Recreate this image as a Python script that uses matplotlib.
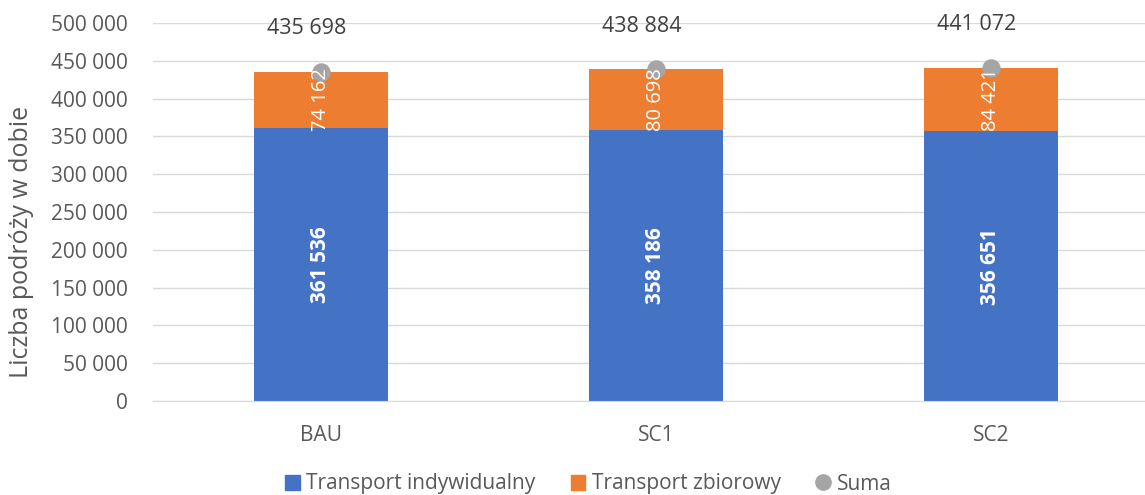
import matplotlib.pyplot as plt
from matplotlib.lines import Line2D
from matplotlib.patches import Patch

# dane
categories = ["BAU", "SC1", "SC2"]
indywidualny = [361536, 358186, 356651]
zbiorowy = [74162, 80698, 84421]
suma = [435698, 438884, 441072]

plt.rcParams['font.family'] = ['Open Sans', 'DejaVu Sans']

blue = "#4472C4"
orange = "#ED7D31"
grey = "#A5A5A5"
txt = "#595959"


def fmt(v):
    return f"{v:,.0f}".replace(",", " ")


fig = plt.figure(figsize=(11.45, 4.95), dpi=100)
ax = fig.add_axes([153 / 1145, 1 - 401 / 495, (1145 - 153) / 1145, 378 / 495])

x = range(len(categories))
ax.bar(x, indywidualny, width=0.4, color=blue, zorder=2)
ax.bar(x, zbiorowy, width=0.4, bottom=indywidualny, color=orange, zorder=2)
ax.scatter(x, suma, s=150, color=grey, zorder=3)

for i in x:
    ax.text(i, indywidualny[i] / 2, fmt(indywidualny[i]), rotation=90, color="white",
            fontsize=15, fontweight="bold", ha="center", va="center", zorder=4)
    ax.text(i, indywidualny[i] + zbiorowy[i] / 2, fmt(zbiorowy[i]), rotation=90, color="white",
            fontsize=14.5, ha="center", va="center", zorder=4)
    ax.text(i - 0.043, suma[i] + 57000, fmt(suma[i]), color="#404040", fontsize=15.5,
            ha="center", va="center", zorder=4)

ax.set_xlim(-0.5015, 2.46)
ax.set_ylim(0, 500000)
ax.set_yticks(range(0, 500001, 50000))
ax.yaxis.set_major_formatter(plt.FuncFormatter(lambda v, p: fmt(v)))
ax.set_xticks(list(x))
ax.set_xticklabels(categories)
ax.tick_params(axis="both", length=0, labelsize=15, colors=txt)
ax.tick_params(axis="y", pad=18)
ax.tick_params(axis="x", pad=17)
ax.grid(axis="y", color="#D9D9D9", linewidth=1, zorder=0)
for s in ["top", "right", "left"]:
    ax.spines[s].set_visible(False)
ax.spines["bottom"].set_color("#D9D9D9")
ax.set_ylabel("Liczba podróży w dobie", fontsize=18, color=txt)
ax.yaxis.set_label_coords(-0.12, 0.42)

handles = [
    Patch(color=blue, label="Transport indywidualny"),
    Patch(color=orange, label="Transport zbiorowy"),
    Line2D([], [], marker="o", color=grey, linestyle="none", markersize=11, label="Suma"),
]
fig.legend(handles=handles, loc="center", bbox_to_anchor=(0.514, 1 - 484 / 495), ncol=3,
           frameon=False, fontsize=15, handlelength=0.7, handleheight=0.7,
           handletextpad=0.3, columnspacing=1.7, labelcolor=txt)

fig.savefig("out.png", dpi=100)
